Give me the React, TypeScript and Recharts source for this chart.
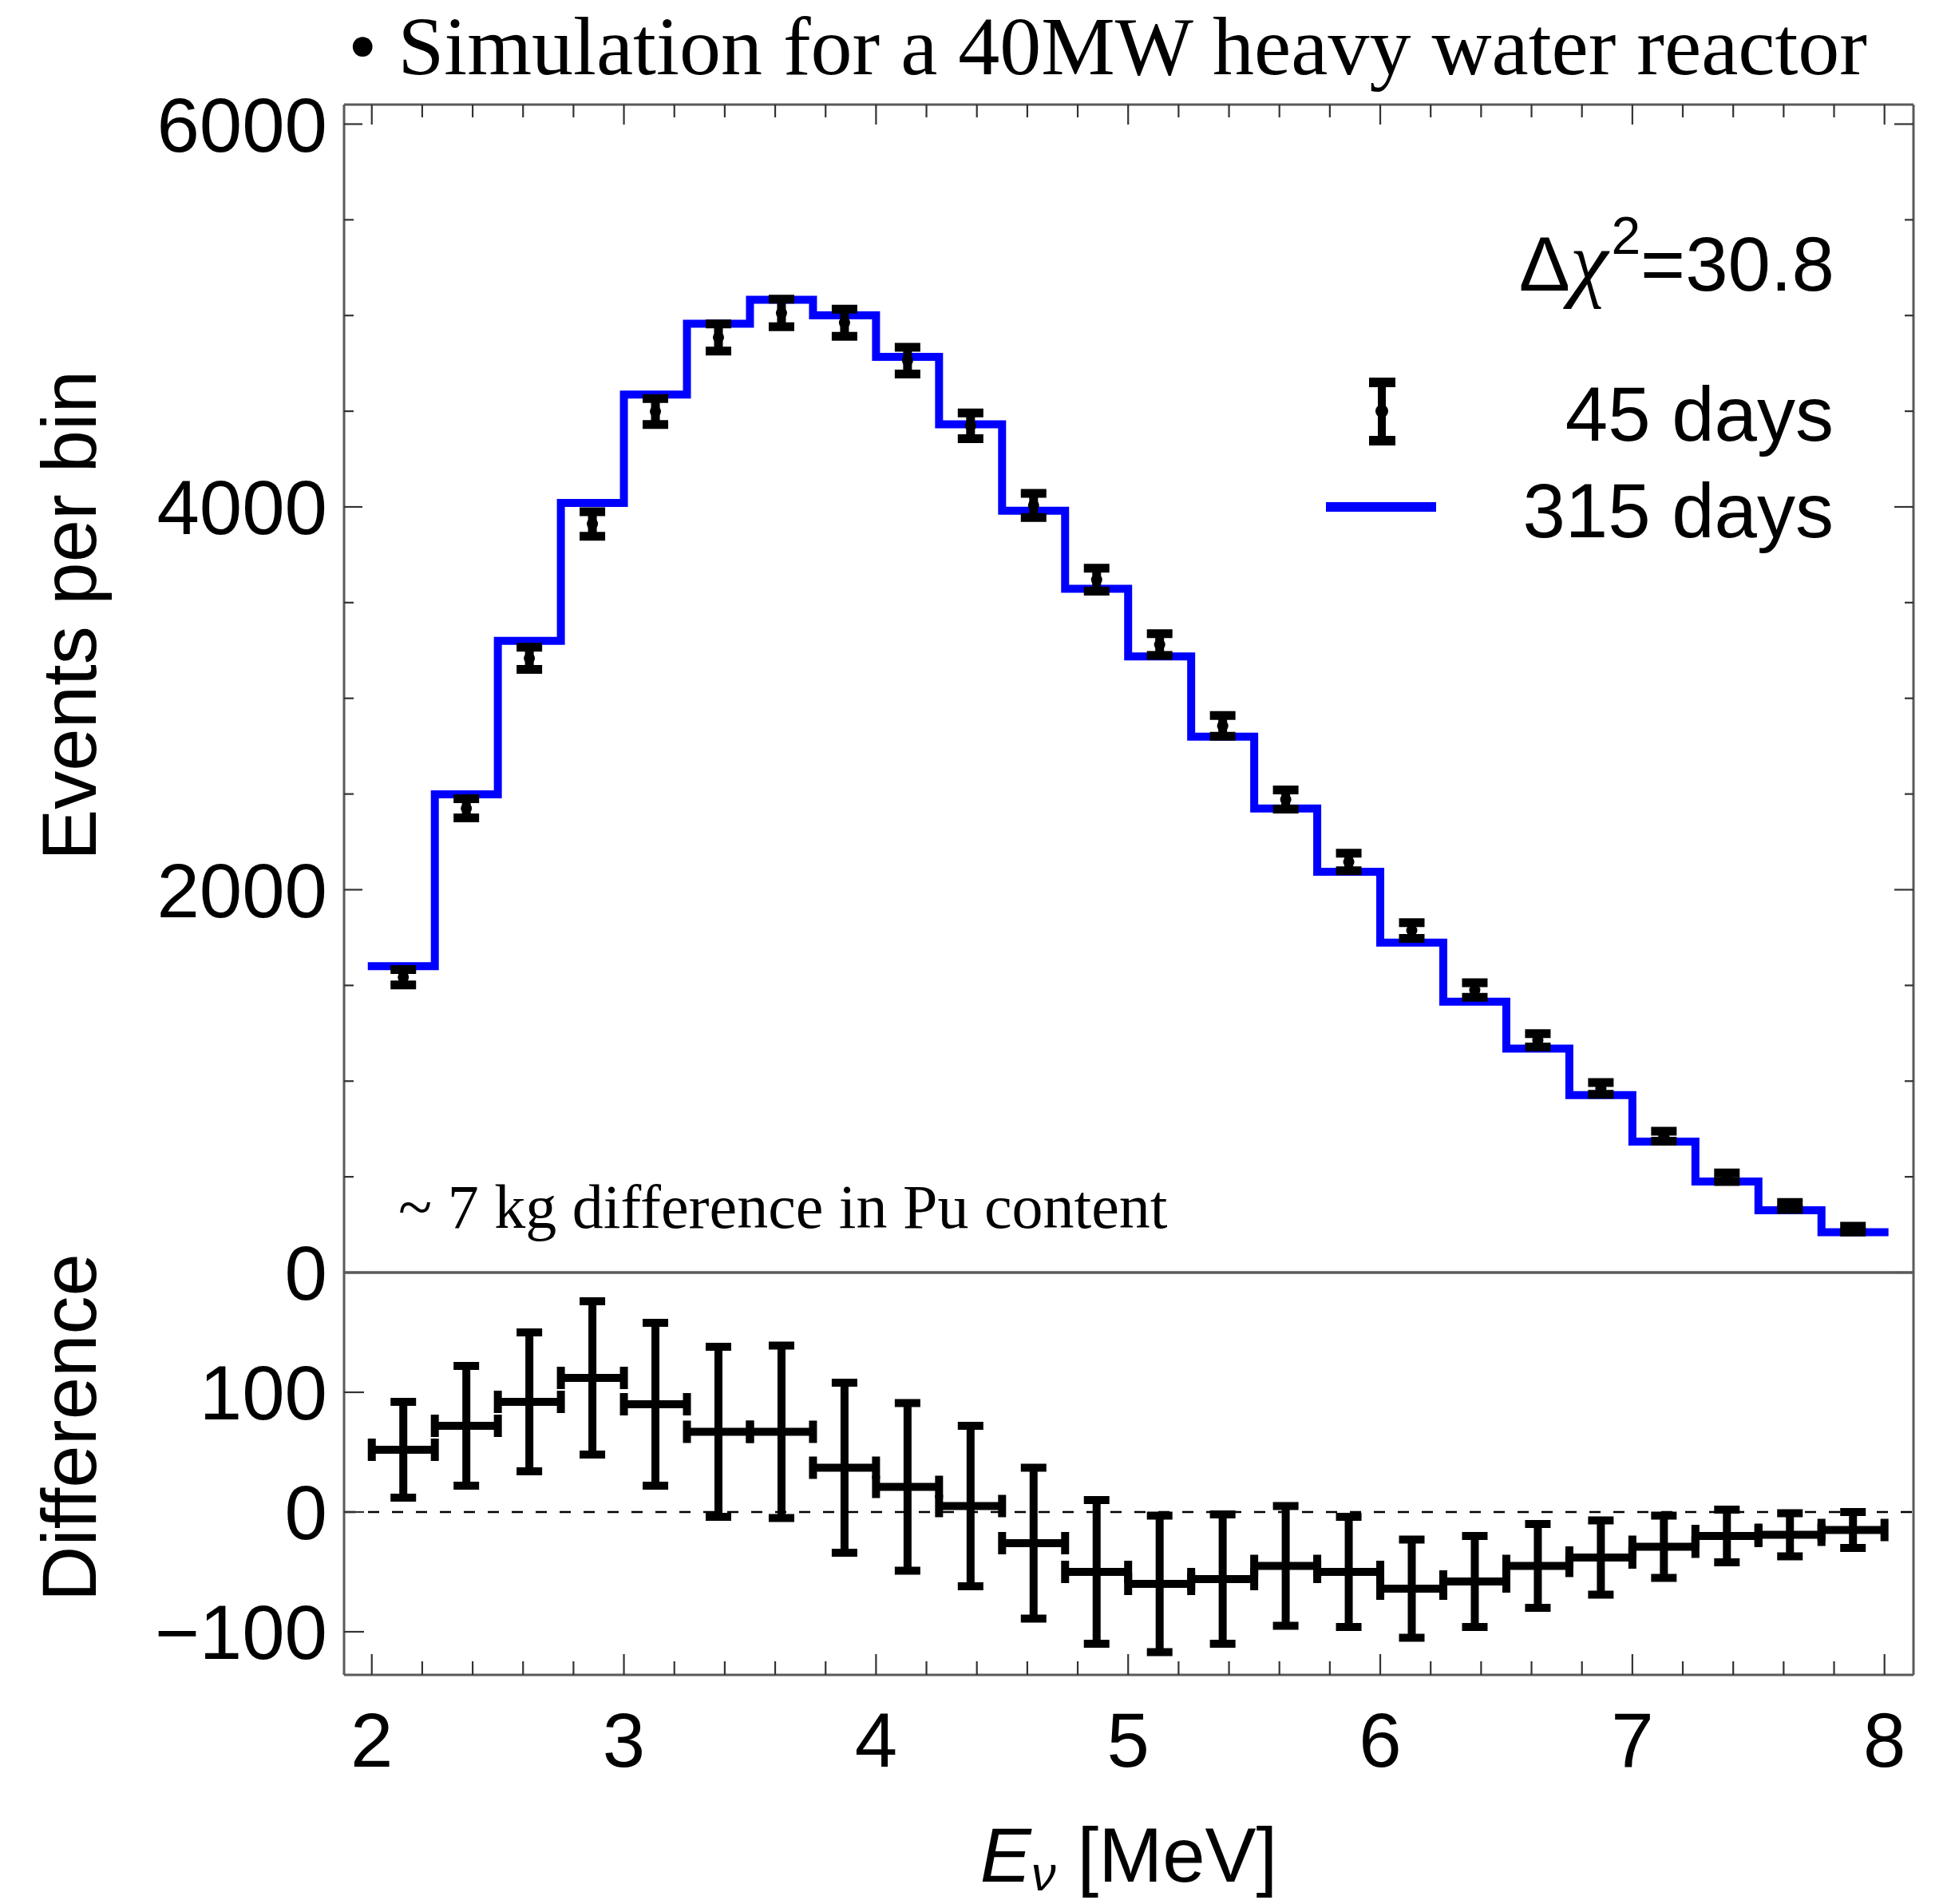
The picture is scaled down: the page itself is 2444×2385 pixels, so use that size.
import React from 'react';
import { ComposedChart, Line, Scatter, ErrorBar, XAxis, YAxis, ReferenceLine } from 'recharts';

// ---------------- data ----------------
const binEdges = [2.0, 2.25, 2.5, 2.75, 3.0, 3.25, 3.5, 3.75, 4.0, 4.25, 4.5, 4.75, 5.0, 5.25, 5.5, 5.75, 6.0, 6.25, 6.5, 6.75, 7.0, 7.25, 7.5, 7.75, 8.0];
const binCenters = [2.125, 2.375, 2.625, 2.875, 3.125, 3.375, 3.625, 3.875, 4.125, 4.375, 4.625, 4.875, 5.125, 5.375, 5.625, 5.875, 6.125, 6.375, 6.625, 6.875, 7.125, 7.375, 7.625, 7.875];
const binHalfWidth = 0.125;
// 315 days (blue histogram)
const events315 = [1601, 2498, 3300, 4021, 4587, 4957, 5082, 5001, 4784, 4432, 3980, 3572, 3219, 2800, 2424, 2094, 1724, 1415, 1170, 927, 684, 476, 325, 211];
// 45 days (black points)
const events45 = [1543, 2425, 3209, 3911, 4498, 4885, 5013, 4962, 4764, 4424, 4008, 3620, 3281, 2856, 2471, 2145, 1787, 1476, 1213, 962, 712, 498, 348, 227];
// statistical error (same in both panels)
const statError = [40, 50, 58, 64, 68, 71, 72, 71, 70, 67, 63, 60, 57, 54, 50, 46, 41, 38, 35, 31, 26, 22, 18, 15];
// difference panel
const difference = [52, 72, 92, 112, 90, 67, 67, 37, 21, 5, -26, -50, -60, -56, -45, -50, -64, -58, -45, -38, -29, -20, -19, -15];

// ticks
const xTicks = [2, 2.2, 2.4, 2.6, 2.8, 3, 3.2, 3.4, 3.6, 3.8, 4, 4.2, 4.4, 4.6, 4.8, 5, 5.2, 5.4, 5.6, 5.8, 6, 6.2, 6.4, 6.6, 6.8, 7, 7.2, 7.4, 7.6, 7.8, 8];
const xMajorTicks = [2, 3, 4, 5, 6, 7, 8];
const xTickLabels = ['2', '3', '4', '5', '6', '7', '8'];
const yTopTicks = [0, 500, 1000, 1500, 2000, 2500, 3000, 3500, 4000, 4500, 5000, 5500, 6000];
const yTopMajor = [0, 2000, 4000, 6000];
const yTopLabels = ['0', '2000', '4000', '6000'];
const yDiffTicks = [-100, 0, 100];
const yDiffLabels = ['\u2212100', '0', '100'];

const xDomain: [number, number] = [1.89, 8.115];
const yTopDomain: [number, number] = [0, 6102];
const yDiffDomain: [number, number] = [-136, 200];

const stepData = binEdges.map((x, i) => ({ x, y: events315[Math.min(i, events315.length - 1)] }));
const points45 = binCenters.map((x, i) => ({ x, y: events45[i], err: statError[i] }));
const diffPoints = binCenters.map((x, i) => ({ x, y: difference[i], err: statError[i], xerr: binHalfWidth }));

// ---------------- layout ----------------
const W = 2444;
const H = 2385;
const PLOT_L = 431;
const PLOT_R = 2397;
const TOP_T = 131;
const MID = 1594;
const BOT_B = 2098;
const TOP_H = 1700;
const BOT_TOP = 1500;
const AX = 1; // axis box thickness (must be > 0 for Recharts to draw it)

const SANS = '"Liberation Sans", Arial, Helvetica, sans-serif';
const SERIF = '"Liberation Serif", "Times New Roman", serif';
const AXIS_LINE = { stroke: '#5a5a5a', strokeWidth: 3 };
const TICK_COLOR = '#333';

type Side = 'left' | 'right' | 'top' | 'bottom';
interface TickOpts {
  side: Side;
  majors: number[];
  labels?: string[];
  majorLen: number;
  minorLen: number;
}

const makeTick = (o: TickOpts) => (p: any) => {
  const { x, y, payload } = p;
  const v = payload.value;
  const idx = o.majors.findIndex((m) => Math.abs(m - v) < 1e-6);
  const major = idx >= 0;
  const len = major ? o.majorLen : o.minorLen;
  let x2 = x;
  let y2 = y;
  if (o.side === 'left') x2 = x + len;
  else if (o.side === 'right') x2 = x - len;
  else if (o.side === 'top') y2 = y + len;
  else y2 = y - len;
  const text = major && o.labels ? o.labels[idx] : null;
  return (
    <g>
      <line x1={x} y1={y} x2={x2} y2={y2} stroke={TICK_COLOR} strokeWidth={2.2} />
      {text != null && o.side === 'left' && (
        <text x={x - 21} y={y} dy="0.355em" textAnchor="end" fontFamily={SANS} fontSize={96} fill="#000">
          {text}
        </text>
      )}
      {text != null && o.side === 'bottom' && (
        <text x={x} y={y + 115} textAnchor="middle" fontFamily={SANS} fontSize={96} fill="#000">
          {text}
        </text>
      )}
    </g>
  );
};

const dotShape = (p: any) => <circle cx={p.cx} cy={p.cy} r={7} fill="#000" />;
const noShape = () => <g />;

function TopPanel() {
  return (
    <ComposedChart
      width={W}
      height={TOP_H}
      margin={{ top: TOP_T - AX, right: W - PLOT_R - AX, bottom: TOP_H - MID - AX, left: PLOT_L - AX }}
    >
      <XAxis xAxisId="b" type="number" dataKey="x" domain={xDomain} allowDataOverflow orientation="bottom" height={AX} tick={false} tickLine={false} axisLine={AXIS_LINE} />
      <XAxis
        xAxisId="t"
        type="number"
        dataKey="x"
        domain={xDomain}
        allowDataOverflow
        orientation="top"
        height={AX}
        ticks={xTicks}
        interval={0}
        tickSize={0}
        tickMargin={0}
        tickLine={false}
        axisLine={AXIS_LINE}
        tick={makeTick({ side: 'top', majors: xMajorTicks, majorLen: 25, minorLen: 16 })}
      />
      <YAxis
        yAxisId="l"
        type="number"
        dataKey="y"
        domain={yTopDomain}
        allowDataOverflow
        orientation="left"
        width={AX}
        ticks={yTopTicks}
        interval={0}
        tickSize={0}
        tickMargin={0}
        tickLine={false}
        axisLine={AXIS_LINE}
        tick={makeTick({ side: 'left', majors: yTopMajor, labels: yTopLabels, majorLen: 23, minorLen: 12 })}
      />
      <YAxis
        yAxisId="r"
        type="number"
        domain={yTopDomain}
        allowDataOverflow
        orientation="right"
        width={AX}
        ticks={yTopTicks}
        interval={0}
        tickSize={0}
        tickMargin={0}
        tickLine={false}
        axisLine={AXIS_LINE}
        tick={makeTick({ side: 'right', majors: yTopMajor, majorLen: 24, minorLen: 11 })}
      />
      <Line
        xAxisId="b"
        yAxisId="l"
        data={stepData}
        dataKey="y"
        type="stepAfter"
        stroke="#0000ff"
        strokeWidth={10}
        strokeLinejoin="miter"
        strokeLinecap="square"
        dot={false}
        activeDot={false}
        isAnimationActive={false}
      />
      <Scatter xAxisId="b" yAxisId="l" data={points45} dataKey="y" shape={dotShape} isAnimationActive={false}>
        <ErrorBar dataKey="err" direction="y" width={16} stroke="#000" strokeWidth={11} isAnimationActive={false} />
      </Scatter>
    </ComposedChart>
  );
}

function BottomPanel() {
  const h = H - BOT_TOP;
  return (
    <ComposedChart
      width={W}
      height={h}
      margin={{ top: MID - BOT_TOP - AX, right: W - PLOT_R - AX, bottom: H - BOT_B - AX, left: PLOT_L - AX }}
    >
      <XAxis
        xAxisId="b"
        type="number"
        dataKey="x"
        domain={xDomain}
        allowDataOverflow
        orientation="bottom"
        height={AX}
        ticks={xTicks}
        interval={0}
        tickSize={0}
        tickMargin={0}
        tickLine={false}
        axisLine={AXIS_LINE}
        tick={makeTick({ side: 'bottom', majors: xMajorTicks, labels: xTickLabels, majorLen: 26, minorLen: 17 })}
      />
      <XAxis xAxisId="t" type="number" dataKey="x" domain={xDomain} allowDataOverflow orientation="top" height={AX} tick={false} tickLine={false} axisLine={AXIS_LINE} />
      <YAxis
        yAxisId="l"
        type="number"
        dataKey="y"
        domain={yDiffDomain}
        allowDataOverflow
        orientation="left"
        width={AX}
        ticks={yDiffTicks}
        interval={0}
        tickSize={0}
        tickMargin={0}
        tickLine={false}
        axisLine={AXIS_LINE}
        tick={makeTick({ side: 'left', majors: yDiffTicks, labels: yDiffLabels, majorLen: 25, minorLen: 12 })}
      />
      <YAxis yAxisId="r" type="number" domain={yDiffDomain} allowDataOverflow orientation="right" width={AX} tick={false} tickLine={false} axisLine={AXIS_LINE} />
      <ReferenceLine xAxisId="b" yAxisId="l" y={0} stroke="#000" strokeWidth={2.5} strokeDasharray="14 16" />
      <Scatter xAxisId="b" yAxisId="l" data={diffPoints} dataKey="y" shape={noShape} isAnimationActive={false}>
        <ErrorBar dataKey="err" direction="y" width={16} stroke="#000" strokeWidth={10} isAnimationActive={false} />
        <ErrorBar dataKey="xerr" direction="x" width={14} stroke="#000" strokeWidth={10} isAnimationActive={false} />
      </Scatter>
    </ComposedChart>
  );
}

function Overlay() {
  return (
    <svg width={W} height={H} style={{ position: 'absolute', left: 0, top: 0, pointerEvents: 'none' }}>
      <text x={436} y={93} fontFamily={SERIF} fontSize={104} fill="#000">
        {'\u2022 Simulation for a 40MW heavy water reactor'}
      </text>
      <text transform="translate(120,771) rotate(-90)" textAnchor="middle" fontFamily={SANS} fontSize={96} fill="#000">
        Events per bin
      </text>
      <text transform="translate(120,1788) rotate(-90)" textAnchor="middle" fontFamily={SANS} fontSize={96} fill="#000">
        Difference
      </text>
      <text x={1414} y={2357} textAnchor="middle" fontFamily={SANS} fontSize={96} fill="#000">
        <tspan fontStyle="italic">E</tspan>
        <tspan fontStyle="italic" fontSize={62} dy={11}>
          {'\u03bd'}
        </tspan>
        <tspan dy={-11}>{' [MeV]'}</tspan>
      </text>
      <text x={2298} y={364} textAnchor="end" fontFamily={SANS} fontSize={96} fill="#000">
        {'\u0394'}
        <tspan fontFamily={SERIF} fontStyle="italic" fontSize={108}>
          {'\u03c7'}
        </tspan>
        <tspan fontSize={66} dy={-46} dx={4}>
          2
        </tspan>
        <tspan dy={46}>=30.8</tspan>
      </text>
      {/* legend */}
      <g>
        <line x1={1731} y1={479} x2={1731} y2={552} stroke="#000" strokeWidth={10} />
        <line x1={1715} y1={479} x2={1748} y2={479} stroke="#000" strokeWidth={12} />
        <line x1={1715} y1={552} x2={1748} y2={552} stroke="#000" strokeWidth={12} />
        <circle cx={1731} cy={515} r={8} fill="#000" />
        <text x={2297} y={552} textAnchor="end" fontFamily={SANS} fontSize={96} fill="#000">
          45 days
        </text>
        <line x1={1661} y1={635} x2={1799} y2={635} stroke="#0000ff" strokeWidth={12} />
        <text x={2297} y={673} textAnchor="end" fontFamily={SANS} fontSize={96} fill="#000">
          315 days
        </text>
      </g>
      <text x={499} y={1538} fontFamily={SERIF} fontSize={78} fill="#000">
        ~ 7 kg difference in Pu content
      </text>
    </svg>
  );
}

export default function App() {
  return (
    <div style={{ position: 'absolute', left: 0, top: 0, width: W, height: H, background: '#fff', overflow: 'hidden' }}>
      <div style={{ position: 'absolute', left: 0, top: 0 }}>
        <TopPanel />
      </div>
      <div style={{ position: 'absolute', left: 0, top: BOT_TOP }}>
        <BottomPanel />
      </div>
      <Overlay />
    </div>
  );
}
